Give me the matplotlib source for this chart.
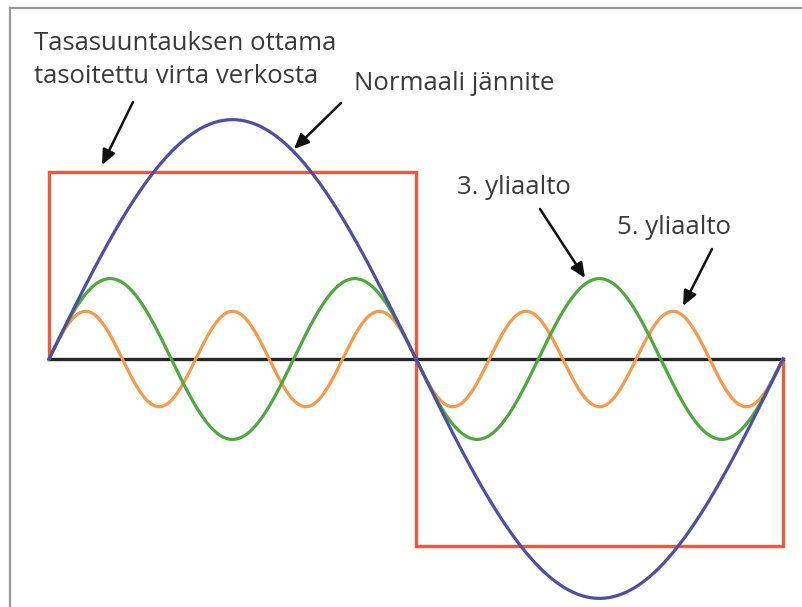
import numpy as np
import matplotlib.pyplot as plt
from matplotlib.lines import Line2D

# one period of the mains waveform, in electrical degrees
period_deg = [0, 360]
# square-wave current drawn by the rectifier (relative to its own height)
square_x = [0, 0, 180, 180, 360, 360]
square_y = [0, 1.0, 1.0, -1.0, -1.0, 0]
# harmonic orders and amplitudes of the sine components
orders = [1, 3, 5]
amplitudes = [1.28, 0.43, 0.255]
colors = ["#4e4fa3", "#4fa83f", "#f39a4b"]

label_lines = ["Tasasuuntauksen ottama", "tasoitettu virta verkosta"]
labels = ["Normaali jännite", "3. yliaalto", "5. yliaalto"]

W, H = 802, 607
fig = plt.figure(figsize=(W / 100, H / 100), dpi=100)
ax = fig.add_axes([0, 0, 1, 1])

# map data so 0..360 deg spans px 49..783 and y=0 sits at px 359
sx = (783 - 49) / 360.0
sy = 187.0
ax.set_xlim(-49 / sx, 360 + (W - 783) / sx)
ax.set_ylim(-(H - 359) / sy, 359 / sy)
ax.axis("off")


def px(x, y):
    return ((x - 49) / sx, (359 - y) / sy)


theta = np.linspace(period_deg[0], period_deg[1], 1441)

ax.plot(square_x, square_y, color="#ea5a3f", lw=2.4, solid_joinstyle="miter", zorder=2)
ax.plot(period_deg, [0, 0], color="#262626", lw=2.4, zorder=3)
for n, a, c in reversed(list(zip(orders, amplitudes, colors))):
    ax.plot(theta, a * np.sin(np.radians(n * theta)), color=c, lw=2.3, zorder=4)

# outer frame
frame_kw = dict(color="#9a9a9a", lw=1.6, transform=None)
fig.add_artist(Line2D([10, W + 5], [H - 8, H - 8], **frame_kw))
fig.add_artist(Line2D([10, 10], [H - 8, -5], **frame_kw))

txt = dict(fontsize=18.5, color="#3a3a3a", family="Open Sans", ha="left", va="baseline")
ax.text(*px(34, 50), label_lines[0], **txt)
ax.text(*px(34, 83), label_lines[1], **txt)
ax.text(*px(354, 90), labels[0], **txt)
ax.text(*px(457, 194), labels[1], **txt)
ax.text(*px(617, 234), labels[2], **txt)

arrow = dict(arrowstyle="-|>,head_length=0.9,head_width=0.4", color="#111111",
             lw=1.8, shrinkA=0, shrinkB=0)
for tail, tip in [((133, 102), (102, 165)), ((341, 103), (294, 149)),
                  ((540, 209), (585, 278)), ((712, 249), (683, 306))]:
    ax.annotate("", xy=px(*tip), xytext=px(*tail), arrowprops=arrow)

fig.savefig("out.png", dpi=100)
